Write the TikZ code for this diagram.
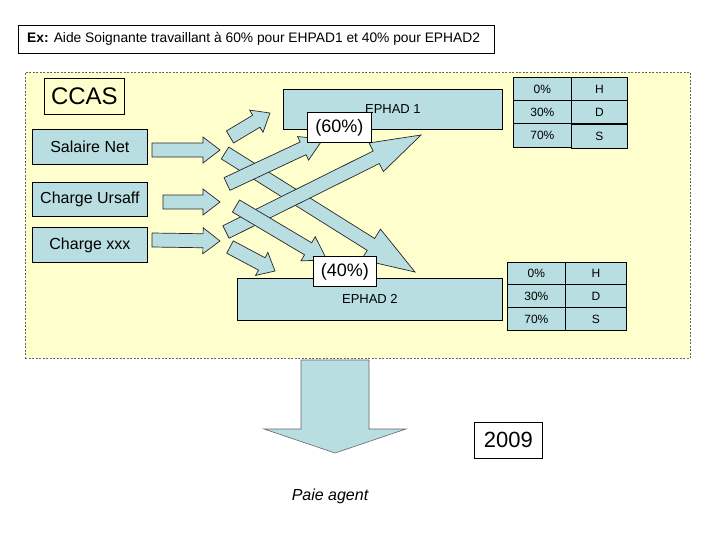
\documentclass[tikz,border=0pt]{standalone}
\usepackage{fontspec}
\setmainfont{Liberation Sans}
\usetikzlibrary{calc}
\definecolor{bl}{RGB}{184,222,226}
\definecolor{yl}{RGB}{255,255,206}
\newcommand\barr[6]{%
 \coordinate (#1-h) at ($(#3)!#6!(#2)$);
 \draw[arr] ($(#2)!#4!90:(#3)$) -- ($(#1-h)!#4!-90:(#2)$) -- ($(#1-h)!#5!-90:(#2)$) -- (#3)
   -- ($(#1-h)!#5!90:(#2)$) -- ($(#1-h)!#4!90:(#2)$) -- ($(#2)!#4!-90:(#3)$) -- cycle;}
\begin{document}
\begin{tikzpicture}[x=1pt,y=-1pt,
  arr/.style={fill=bl,draw=black!85,line width=0.7pt,line join=miter},
  box/.style={draw=black,line width=0.8pt,fill=bl,inner sep=0pt,anchor=north west},
  wbox/.style={draw=black,line width=0.8pt,fill=white,inner sep=0pt,anchor=north west},
  cell/.style={draw=black,line width=0.8pt,fill=bl,inner sep=0pt,anchor=north west,font=\fontsize{12}{12}\selectfont}]
\useasboundingbox (0,0) rectangle (728,546);
\fill[white] (0,0) rectangle (728,546);
% header
\node[draw=black,line width=0.8pt,inner sep=0pt,anchor=north west,minimum width=476pt,minimum height=28pt] (hdr) at (18,25) {};
\node[anchor=west,inner sep=0pt,font=\fontsize{13.8}{14}\selectfont] (hdrt) at (27,39) {\textbf{Ex:} Aide Soignante travaillant à 60\% pour EHPAD1 et 40\% pour EPHAD2};
% background region
\node[draw=black!60,dashed,dash pattern=on 2pt off 1.5pt,line width=0.6pt,fill=yl,inner sep=0pt,anchor=north west,minimum width=665pt,minimum height=286pt] (ccasbg) at (25,72) {};
\node[draw=black,line width=0.8pt,inner sep=0pt,anchor=north west,minimum width=80pt,minimum height=36pt,font=\fontsize{24}{24}\selectfont] (ccas) at (44,78) {CCAS};
% source boxes
\node[box,minimum width=115pt,minimum height=35pt,font=\fontsize{16}{16}\selectfont] (sal) at (32,129) {Salaire Net};
\node[box,minimum width=115pt,minimum height=34pt,font=\fontsize{16}{16}\selectfont] (urs) at (32,182) {Charge Ursaff};
\node[box,minimum width=115pt,minimum height=35pt,font=\fontsize{16}{16}\selectfont] (xxx) at (32,227) {Charge xxx};
% arrow end points
\coordinate (h1s) at (152,150); \coordinate (h1t) at (220,150);
\coordinate (h2s) at (163,202); \coordinate (h2t) at (220,202);
\coordinate (h3s) at (152,240); \coordinate (h3t) at (220,241);
\coordinate (as) at (230,137); \coordinate (at) at (270,113);
\coordinate (bs) at (227,184); \coordinate (bt) at (323,139);
\coordinate (cs) at (226,232); \coordinate (ct) at (421,135);
\coordinate (ds) at (225,153); \coordinate (dt) at (415,272);
\coordinate (es) at (236,206); \coordinate (et) at (327,260);
\coordinate (fs) at (230,247); \coordinate (ft) at (275,271);
\barr{h1}{h1s}{h1t}{7pt}{13pt}{17pt}
\barr{h2}{h2s}{h2t}{7pt}{13pt}{17pt}
\barr{h3}{h3s}{h3t}{7pt}{13pt}{17pt}
\barr{A}{as}{at}{7pt}{13pt}{16pt}
\barr{D}{ds}{dt}{7pt}{18pt}{52pt}
\barr{B}{bs}{bt}{7pt}{13pt}{22pt}
\barr{C}{cs}{ct}{7pt}{16pt}{50pt}
\barr{E}{es}{et}{7pt}{14pt}{22pt}
\barr{F}{fs}{ft}{7pt}{13pt}{15pt}
% targets
\node[box,minimum width=219pt,minimum height=40pt,font=\fontsize{13}{13}\selectfont] (e1) at (283,89) {EPHAD 1};
\node[box,minimum width=265pt,minimum height=42pt,font=\fontsize{13}{13}\selectfont] (e2) at (237,278) {EPHAD 2};
\node[wbox,minimum width=64pt,minimum height=30pt,font=\fontsize{18}{18}\selectfont] (p60) at (307,112) {(60\%)};
\node[wbox,minimum width=63pt,minimum height=30pt,font=\fontsize{18}{18}\selectfont] (p40) at (313,256) {(40\%)};
% table 1
\node[cell,minimum width=58pt,minimum height=23pt] (t1a) at (513,77) {0\%};
\node[cell,minimum width=58pt,minimum height=23pt] (t1b) at (513,100) {30\%};
\node[cell,minimum width=58pt,minimum height=24pt] (t1c) at (513,123) {70\%};
\node[cell,minimum width=56pt,minimum height=23pt] (t1d) at (571,77) {H};
\node[cell,minimum width=56pt,minimum height=23pt] (t1e) at (571,100) {D};
\node[cell,minimum width=56pt,minimum height=24pt] (t1f) at (571,124) {S};
% table 2
\node[cell,minimum width=58pt,minimum height=22pt] (t2a) at (507,262) {0\%};
\node[cell,minimum width=58pt,minimum height=23pt] (t2b) at (507,284) {30\%};
\node[cell,minimum width=58pt,minimum height=23pt] (t2c) at (507,307) {70\%};
\node[cell,minimum width=61pt,minimum height=22pt] (t2d) at (565,262) {H};
\node[cell,minimum width=61pt,minimum height=23pt] (t2e) at (565,284) {D};
\node[cell,minimum width=61pt,minimum height=23pt] (t2f) at (565,307) {S};
% down arrow
\draw[fill=bl,draw=black!60,line width=0.6pt] (301,360) -- (369,360) -- (369,429) -- (406,429) -- (335,453) -- (264,429) -- (301,429) -- cycle;
\node[draw=black,line width=0.8pt,inner sep=0pt,anchor=north west,minimum width=68pt,minimum height=36pt,font=\fontsize{22}{22}\selectfont] (yr) at (474,422) {2009};
\node[font=\fontsize{16}{16}\selectfont\itshape] (paie) at (330,496) {Paie agent};
\end{tikzpicture}
\end{document}
